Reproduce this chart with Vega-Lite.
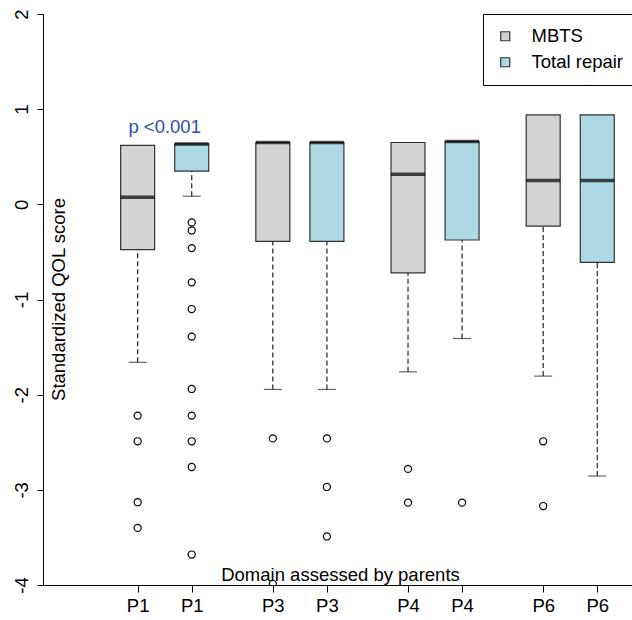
{
  "$schema": "https://vega.github.io/schema/vega-lite/v6.json",
  "width": 589,
  "height": 571,
  "autosize": "none",
  "padding": {"left": 43, "top": 14, "right": 0, "bottom": 35},
  "background": "white",
  "config": {
    "view": {"stroke": null},
    "font": "Liberation Sans",
    "axis": {"domainColor": "black", "tickColor": "black", "labelColor": "black", "titleColor": "black", "grid": false, "labelFont": "Liberation Sans", "titleFont": "Liberation Sans"}
  },
  "datasets": {
    "boxes": [
      {"domain": "P1", "group": "MBTS", "pos": 1, "q3": 0.62, "median": 0.075, "q1": -0.475, "lower": -1.66},
      {"domain": "P1", "group": "Total repair", "pos": 2, "q3": 0.635, "median": 0.635, "q1": 0.35, "lower": 0.085},
      {"domain": "P3", "group": "MBTS", "pos": 3.5, "q3": 0.65, "median": 0.65, "q1": -0.39, "lower": -1.945},
      {"domain": "P3", "group": "Total repair", "pos": 4.5, "q3": 0.65, "median": 0.65, "q1": -0.39, "lower": -1.945},
      {"domain": "P4", "group": "MBTS", "pos": 6, "q3": 0.65, "median": 0.315, "q1": -0.72, "lower": -1.76},
      {"domain": "P4", "group": "Total repair", "pos": 7, "q3": 0.66, "median": 0.66, "q1": -0.375, "lower": -1.41},
      {"domain": "P6", "group": "MBTS", "pos": 8.5, "q3": 0.94, "median": 0.25, "q1": -0.23, "lower": -1.805},
      {"domain": "P6", "group": "Total repair", "pos": 9.5, "q3": 0.94, "median": 0.25, "q1": -0.61, "lower": -2.855}
    ],
    "outliers": [
      {"pos": 1, "value": -2.22}, {"pos": 1, "value": -2.49}, {"pos": 1, "value": -3.13}, {"pos": 1, "value": -3.40},
      {"pos": 2, "value": -0.19}, {"pos": 2, "value": -0.275}, {"pos": 2, "value": -0.46}, {"pos": 2, "value": -0.82},
      {"pos": 2, "value": -1.10}, {"pos": 2, "value": -1.39}, {"pos": 2, "value": -1.94}, {"pos": 2, "value": -2.22},
      {"pos": 2, "value": -2.49}, {"pos": 2, "value": -2.76}, {"pos": 2, "value": -3.68},
      {"pos": 3.5, "value": -2.46}, {"pos": 3.5, "value": -3.99},
      {"pos": 4.5, "value": -2.46}, {"pos": 4.5, "value": -2.97}, {"pos": 4.5, "value": -3.49},
      {"pos": 6, "value": -2.78}, {"pos": 6, "value": -3.135},
      {"pos": 7, "value": -3.135},
      {"pos": 8.5, "value": -2.49}, {"pos": 8.5, "value": -3.17}
    ],
    "notes": [{"pos": 1.5, "value": 0.81, "text": "p <0.001"}]
  },
  "layer": [
    {
      "data": {"name": "boxes"},
      "mark": {"type": "rule", "color": "#222", "strokeWidth": 1.2, "strokeDash": [5, 3]},
      "encoding": {
        "x": {"field": "pos", "type": "quantitative", "scale": {"domain": [-0.658, 10.05], "nice": false, "zero": false},
          "axis": {"values": [1, 2, 3.5, 4.5, 6, 7, 8.5, 9.5],
            "labelExpr": "datum.value < 2.5 ? 'P1' : datum.value < 5 ? 'P3' : datum.value < 7.5 ? 'P4' : 'P6'",
            "labelFontSize": 18.5, "labelPadding": 4, "tickSize": 7, "labelFlush": false, "labelOverlap": false,
            "title": "Domain assessed by parents", "titleFontSize": 18.5, "titleFontWeight": "normal",
            "titleX": 297, "titleY": -11, "titleBaseline": "middle", "titleAlign": "center"}},
        "y": {"field": "lower", "type": "quantitative", "scale": {"domain": [-4, 2], "nice": false, "zero": false},
          "axis": {"values": [-4, -3, -2, -1, 0, 1, 2], "labelExpr": "'' + datum.value", "labelAngle": 270, "labelAlign": "center", "labelBaseline": "middle",
            "labelPadding": 16, "labelFontSize": 18.5, "tickSize": 6, "labelFlush": false, "labelOverlap": false,
            "title": "Standardized QOL score", "titleFontSize": 18.5, "titleFontWeight": "normal",
            "titleX": 15, "titleY": 285, "titleBaseline": "middle", "titleAngle": 270, "titleAlign": "center"}},
        "y2": {"field": "q1"}
      }
    },
    {
      "data": {"name": "boxes"},
      "mark": {"type": "tick", "orient": "horizontal", "size": 18, "thickness": 1.2, "color": "#222"},
      "encoding": {
        "x": {"field": "pos", "type": "quantitative"},
        "y": {"field": "lower", "type": "quantitative"}
      }
    },
    {
      "data": {"name": "boxes"},
      "mark": {"type": "bar", "width": 34, "stroke": "#333", "strokeWidth": 1.2},
      "encoding": {
        "x": {"field": "pos", "type": "quantitative"},
        "y": {"field": "q1", "type": "quantitative"},
        "y2": {"field": "q3"},
        "fill": {"field": "group", "type": "nominal",
          "scale": {"domain": ["MBTS", "Total repair"], "range": ["#d3d3d3", "#add8e6"]},
          "legend": {"title": null, "orient": "none", "legendX": 440, "legendY": 0, "strokeColor": "black", "fillColor": "white",
            "padding": 13, "symbolType": "square", "symbolSize": 81, "symbolStrokeColor": "#333", "symbolStrokeWidth": 1.2,
            "labelOffset": 17, "labelFontSize": 18.5, "labelColor": "black", "rowPadding": 7, "labelLimit": 400}}
      }
    },
    {
      "data": {"name": "boxes"},
      "mark": {"type": "tick", "orient": "horizontal", "size": 34, "thickness": 3.5, "color": "black"},
      "encoding": {
        "x": {"field": "pos", "type": "quantitative"},
        "y": {"field": "median", "type": "quantitative"}
      }
    },
    {
      "data": {"name": "outliers"},
      "mark": {"type": "point", "shape": "circle", "filled": false, "stroke": "black", "strokeWidth": 1.2, "size": 50, "opacity": 1, "clip": true},
      "encoding": {
        "x": {"field": "pos", "type": "quantitative"},
        "y": {"field": "value", "type": "quantitative"}
      }
    },
    {
      "data": {"name": "notes"},
      "mark": {"type": "text", "fontSize": 18.5, "color": "#2f4fa8", "align": "center", "baseline": "middle"},
      "encoding": {
        "x": {"field": "pos", "type": "quantitative"},
        "y": {"field": "value", "type": "quantitative"},
        "text": {"field": "text"}
      }
    },
    {
      "mark": {"type": "rule", "color": "black", "strokeWidth": 1},
      "encoding": {"y": {"datum": 2, "type": "quantitative"}}
    }
  ]
}
